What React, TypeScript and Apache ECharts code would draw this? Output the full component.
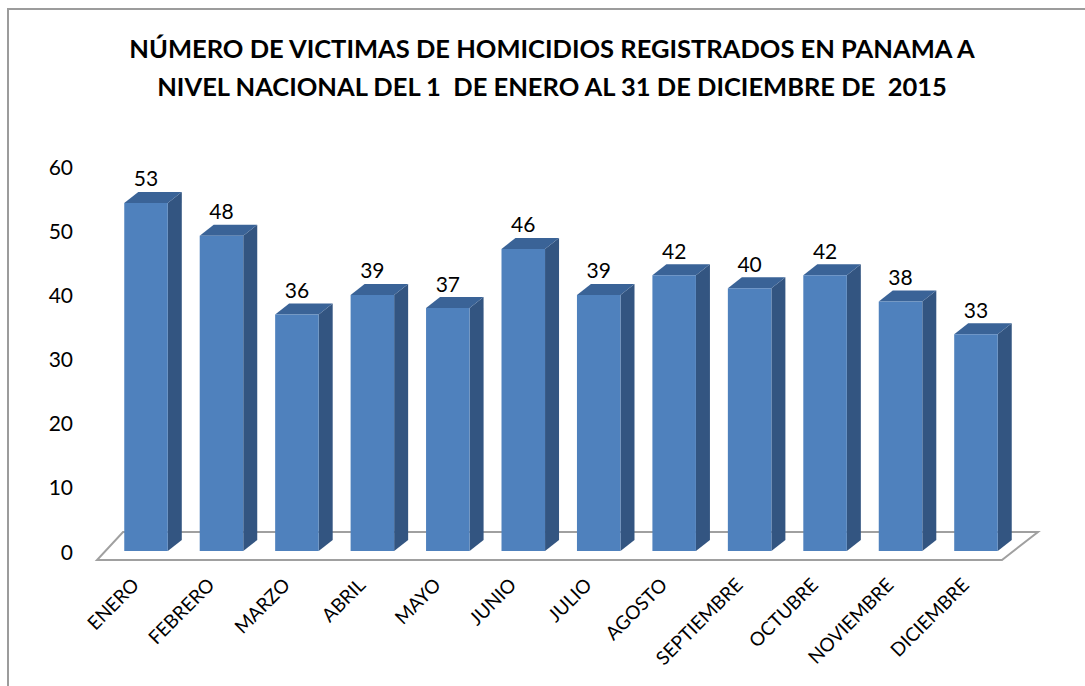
import React, { useEffect, useRef } from "react";
import * as echarts from "echarts";

const titleLines = [
  "NÚMERO DE VICTIMAS DE HOMICIDIOS REGISTRADOS EN PANAMA A",
  "NIVEL NACIONAL DEL 1  DE ENERO AL 31 DE DICIEMBRE DE  2015",
];
const categories = [
  "ENERO", "FEBRERO", "MARZO", "ABRIL", "MAYO", "JUNIO",
  "JULIO", "AGOSTO", "SEPTIEMBRE", "OCTUBRE", "NOVIEMBRE", "DICIEMBRE",
];
const values = [53, 48, 36, 39, 37, 46, 39, 42, 40, 42, 38, 33];
const yMin = 0;
const yMax = 60;
const yStep = 10;

const FONT = "Lato";
const FRONT = "#4F81BD";
const SIDE = "#335581";
const TOP = "#3A6397";
const DX = 14;
const DY = -11;

export default function App() {
  const ref = useRef<HTMLDivElement>(null);
  useEffect(() => {
    document.body.style.margin = "0";
    const chart = echarts.init(ref.current!, null, { renderer: "svg" });
    const n = categories.length;
    const option: any = {
      animation: false,
      backgroundColor: "#ffffff",
      title: {
        text: titleLines.join("\n"),
        left: 552,
        top: 29,
        padding: 0,
        textAlign: "center",
        textStyle: {
          fontFamily: FONT,
          fontWeight: "bold",
          fontSize: 25.5,
          lineHeight: 38,
          color: "#000",
        },
      },
      graphic: [
        {
          type: "rect",
          shape: { x: 8, y: 9, width: 1200, height: 800 },
          style: { fill: "none", stroke: "#9c9c9c", lineWidth: 2 },
          silent: true,
          z: 100,
        },
      ],
      grid: [
        { left: 108.3, right: 71.3, top: 157, bottom: 135 },
        { left: 97.3, right: 82.3, top: 166, bottom: 135 },
      ],
      xAxis: [
        { type: "category", data: categories, gridIndex: 0, show: false },
        {
          type: "category",
          data: categories,
          gridIndex: 1,
          axisLine: { show: false },
          axisTick: { show: false },
          axisLabel: {
            rotate: 45,
            interval: 0,
            margin: 30,
            fontFamily: FONT,
            fontSize: 19,
            color: "#000",
          },
        },
      ],
      yAxis: [
        { type: "value", gridIndex: 0, min: yMin, max: yMax, interval: yStep, show: false },
        {
          type: "value",
          gridIndex: 1,
          min: yMin,
          max: yMax,
          interval: yStep,
          axisLine: { show: false },
          axisTick: { show: false },
          splitLine: { show: false },
          axisLabel: {
            margin: 24.3,
            fontFamily: FONT,
            fontSize: 21,
            color: "#000",
          },
        },
      ],
      series: [
        {
          type: "custom",
          xAxisIndex: 0,
          yAxisIndex: 0,
          data: [[0, 0]],
          silent: true,
          renderItem: (params: any, api: any) => {
            const p0 = api.coord([0, 0]);
            const pN = api.coord([n - 1, 0]);
            return {
              type: "polygon",
              shape: {
                points: [
                  [p0[0] - 49, p0[1] + 9],
                  [pN[0] + 26, pN[1] + 9],
                  [pN[0] + 62, pN[1] - 19],
                  [p0[0] - 23, p0[1] - 19],
                ],
              },
              style: { fill: "#ffffff", stroke: "#a0a0a0", lineWidth: 2 },
            };
          },
        },
        {
          type: "custom",
          xAxisIndex: 0,
          yAxisIndex: 0,
          data: values.map((v, i) => [i, v]),
          encode: { x: 0, y: 1 },
          renderItem: (params: any, api: any) => {
            const i = api.value(0);
            const v = api.value(1);
            const top = api.coord([i, v]);
            const bot = api.coord([i, 0]);
            const w = api.size([1, 0])[0] * 0.577;
            const x0 = top[0] - w / 2;
            const x1 = top[0] + w / 2;
            return {
              type: "group",
              children: [
                {
                  type: "polygon",
                  shape: {
                    points: [
                      [x1, top[1]],
                      [x1 + DX, top[1] + DY],
                      [x1 + DX, bot[1] + DY],
                      [x1, bot[1]],
                    ],
                  },
                  style: { fill: SIDE },
                },
                {
                  type: "polygon",
                  shape: {
                    points: [
                      [x0, top[1]],
                      [x0 + DX, top[1] + DY],
                      [x1 + DX, top[1] + DY],
                      [x1, top[1]],
                    ],
                  },
                  style: { fill: TOP },
                },
                {
                  type: "rect",
                  shape: { x: x0, y: top[1], width: w, height: bot[1] - top[1] },
                  style: { fill: FRONT },
                },
                {
                  type: "text",
                  x: top[0],
                  y: top[1] - 25,
                  style: {
                    text: String(v),
                    fontFamily: FONT,
                    fontSize: 21,
                    fill: "#000",
                    align: "center",
                    verticalAlign: "middle",
                  },
                },
              ],
            };
          },
        },
      ],
    };
    chart.setOption(option);
    return () => chart.dispose();
  }, []);
  return <div ref={ref} style={{ width: 1085, height: 686 }} />;
}
